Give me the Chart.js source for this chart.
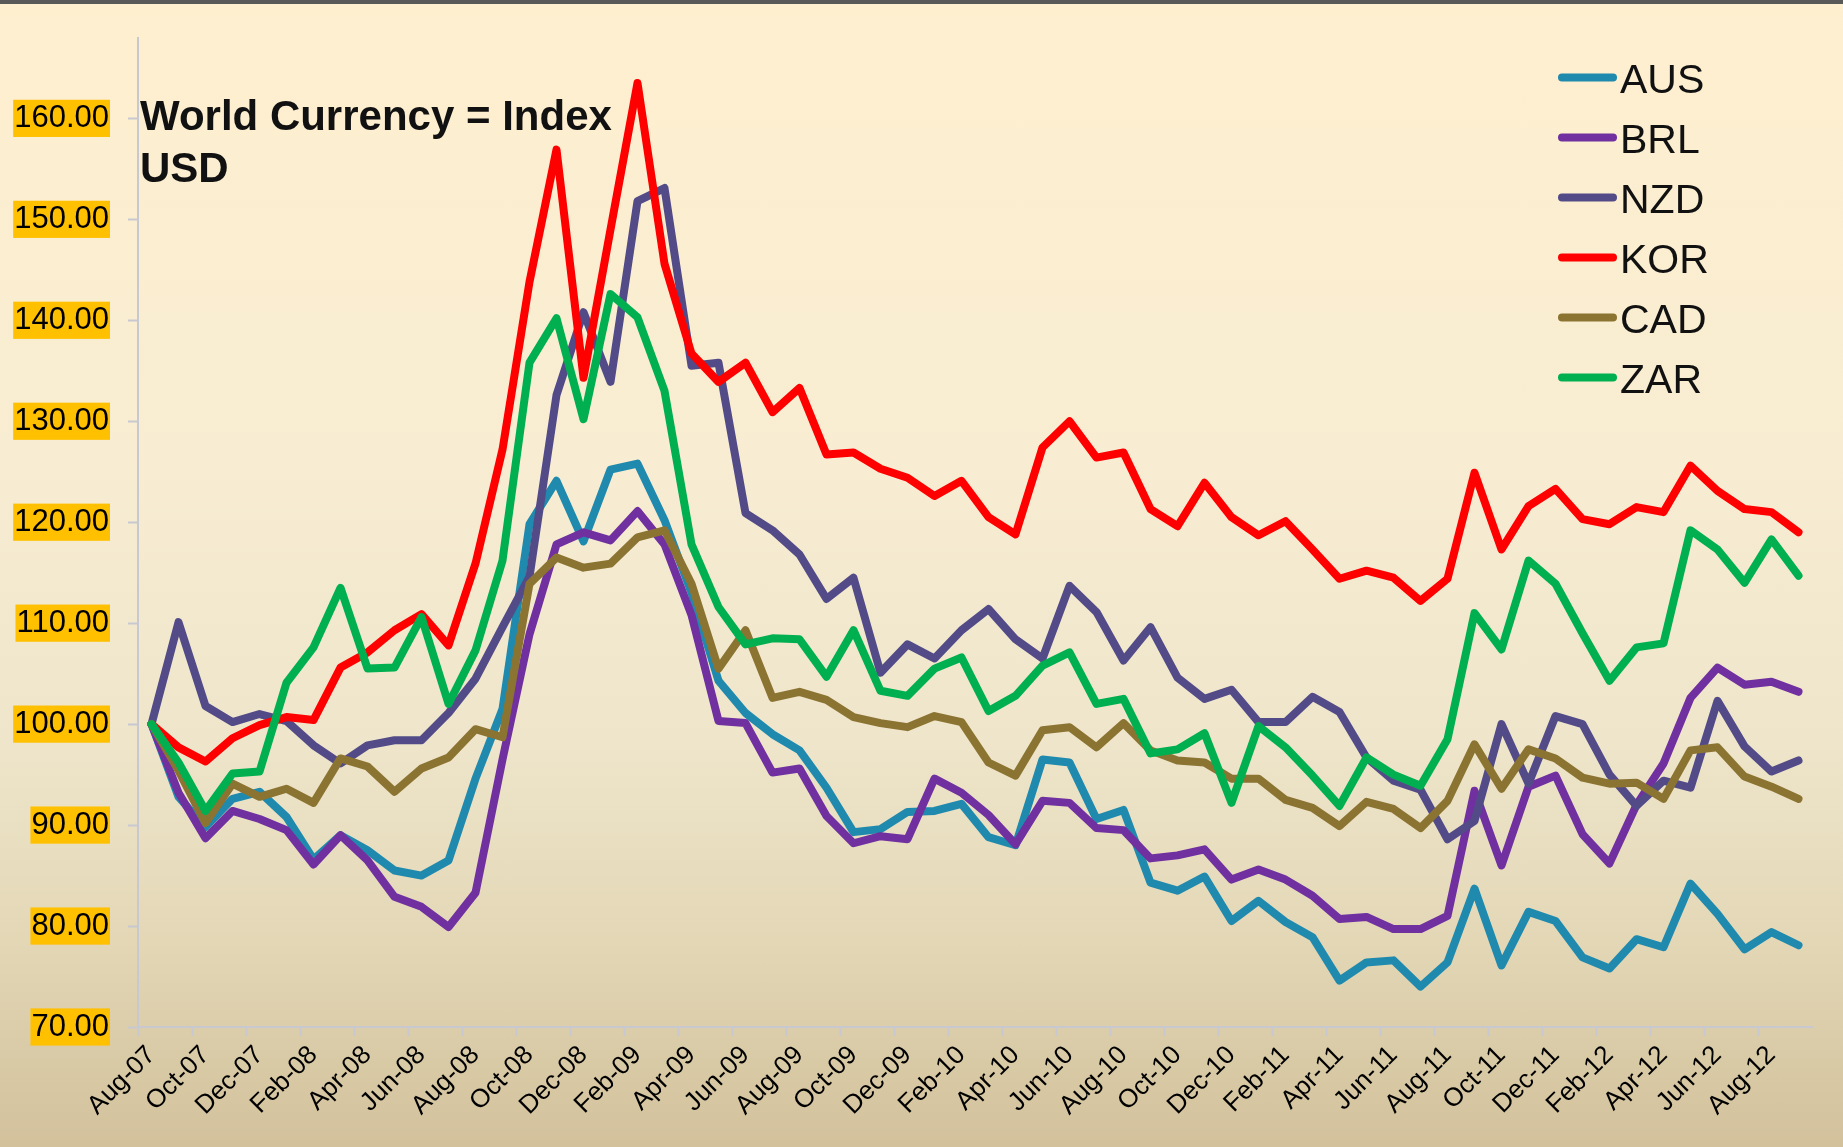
<!DOCTYPE html>
<html>
<head>
<meta charset="utf-8">
<title>World Currency = Index USD</title>
<script src="https://cdn.jsdelivr.net/npm/chart.js@4.4.0/dist/chart.umd.min.js"></script>
<style>
    html, body { margin: 0; padding: 0; }
    body {
        width: 1843px;
        height: 1147px;
        overflow: hidden;
        position: relative;
        background: linear-gradient(to bottom, #feefcf 0%, #f8edd2 40%, #eee5ca 65%, #e3d7b6 82%, #d2c19b 100%);
    }
    #topBar { position: absolute; left: 0; top: 0; width: 100%; height: 4px; background: #595959; }
    #wrap { position: absolute; left: 0; top: 0; width: 1843px; height: 1147px; }
</style>
</head>
<body>
<div id="topBar"></div>
<div id="wrap"><canvas id="lineChart" width="1843" height="1147"></canvas></div>
<script>
// Data
const months = [
    'Aug-07', 'Sep-07', 'Oct-07', 'Nov-07', 'Dec-07',
    'Jan-08', 'Feb-08', 'Mar-08', 'Apr-08', 'May-08', 'Jun-08', 'Jul-08', 'Aug-08', 'Sep-08', 'Oct-08', 'Nov-08', 'Dec-08',
    'Jan-09', 'Feb-09', 'Mar-09', 'Apr-09', 'May-09', 'Jun-09', 'Jul-09', 'Aug-09', 'Sep-09', 'Oct-09', 'Nov-09', 'Dec-09',
    'Jan-10', 'Feb-10', 'Mar-10', 'Apr-10', 'May-10', 'Jun-10', 'Jul-10', 'Aug-10', 'Sep-10', 'Oct-10', 'Nov-10', 'Dec-10',
    'Jan-11', 'Feb-11', 'Mar-11', 'Apr-11', 'May-11', 'Jun-11', 'Jul-11', 'Aug-11', 'Sep-11', 'Oct-11', 'Nov-11', 'Dec-11',
    'Jan-12', 'Feb-12', 'Mar-12', 'Apr-12', 'May-12', 'Jun-12', 'Jul-12', 'Aug-12', 'Sep-12'
];

const aus = [100, 92.8, 89.8, 92.6, 93.3, 90.8, 86.6, 89.0, 87.5, 85.5,
    85.0, 86.5, 94.6, 101.5, 119.8, 124.1, 118.1, 125.2, 125.8, 120.2,
    113.0, 104.3, 101.1, 99.0, 97.4, 93.7, 89.3, 89.6, 91.3, 91.4,
    92.1, 88.8, 88.0, 96.5, 96.2, 90.6, 91.5, 84.3, 83.5, 84.9,
    80.5, 82.5, 80.4, 78.9, 74.6, 76.4, 76.6, 74.0, 76.4, 83.7,
    76.1, 81.4, 80.5, 76.9, 75.8, 78.7, 77.9, 84.2, 81.2, 77.7,
    79.4, 78.1];

const brl = [100, 93.2, 88.7, 91.4, 90.6, 89.5, 86.1, 89.0, 86.5, 82.9,
    81.9, 79.9, 83.3, 96.5, 108.9, 117.8, 119.0, 118.2, 121.1, 117.8,
    110.8, 100.3, 100.1, 95.2, 95.6, 90.9, 88.2, 88.9, 88.6, 94.6,
    93.2, 91.0, 88.1, 92.4, 92.2, 89.7, 89.5, 86.7, 87.0, 87.6,
    84.6, 85.6, 84.6, 83.0, 80.7, 80.9, 79.7, 79.7, 81.0, 93.4,
    86.0, 93.8, 94.9, 89.1, 86.2, 92.0, 96.1, 102.6, 105.6, 103.9,
    104.2, 103.2];

const nzd = [100, 110.1, 101.8, 100.2, 101.0, 100.3, 97.9, 96.1, 97.9, 98.4,
    98.4, 101.1, 104.5, 109.6, 114.6, 132.6, 140.8, 133.9, 151.8, 153.1,
    135.5, 135.8, 120.9, 119.2, 116.8, 112.4, 114.5, 105.1, 107.9, 106.5,
    109.3, 111.4, 108.4, 106.5, 113.7, 111.1, 106.3, 109.6, 104.6, 102.5,
    103.4, 100.2, 100.2, 102.7, 101.2, 96.7, 94.4, 93.5, 88.6, 90.4,
    100.0, 94.1, 100.8, 100.0, 95.0, 91.9, 94.4, 93.7, 102.3, 97.8,
    95.3, 96.4];

const kor = [100, 97.7, 96.3, 98.6, 99.9, 100.7, 100.4, 105.6, 107.1, 109.3,
    110.9, 107.8, 115.9, 127.2, 143.8, 156.9, 134.3, 149.0, 163.5, 145.6,
    136.7, 133.9, 135.8, 130.9, 133.3, 126.7, 126.9, 125.3, 124.4, 122.6,
    124.1, 120.5, 118.8, 127.4, 130.0, 126.4, 126.9, 121.3, 119.6, 123.9,
    120.5, 118.7, 120.1, 117.3, 114.4, 115.2, 114.5, 112.2, 114.4, 124.9,
    117.3, 121.6, 123.3, 120.3, 119.8, 121.5, 121.0, 125.6, 123.1, 121.3,
    121.0, 119.0];

const cad = [100, 95.4, 90.2, 94.1, 92.8, 93.6, 92.2, 96.6, 95.8, 93.3,
    95.6, 96.7, 99.5, 98.7, 113.9, 116.5, 115.5, 115.9, 118.5, 119.2,
    113.9, 105.5, 109.3, 102.6, 103.2, 102.4, 100.7, 100.1, 99.7, 100.8,
    100.2, 96.2, 94.9, 99.4, 99.7, 97.7, 100.1, 97.4, 96.4, 96.2,
    94.6, 94.6, 92.5, 91.7, 89.9, 92.3, 91.6, 89.7, 92.4, 98.0,
    93.6, 97.5, 96.6, 94.7, 94.1, 94.2, 92.6, 97.4, 97.7, 94.8,
    93.8, 92.6];

const zar = [100, 96.2, 91.4, 95.1, 95.3, 104.1, 107.6, 113.5, 105.5, 105.6,
    110.6, 102.0, 107.3, 116.2, 135.8, 140.2, 130.2, 142.6, 140.3, 133.0,
    117.8, 111.6, 107.9, 108.5, 108.4, 104.7, 109.3, 103.3, 102.8, 105.5,
    106.6, 101.3, 102.8, 105.8, 107.1, 102.0, 102.5, 97.1, 97.5, 99.1,
    92.2, 99.8, 97.7, 94.9, 91.9, 96.7, 95.0, 93.9, 98.5, 111.0,
    107.4, 116.2, 113.9, 109.0, 104.3, 107.6, 108.0, 119.2, 117.3, 114.0,
    118.3, 114.7];

const yTicks = [70, 80, 90, 100, 110, 120, 130, 140, 150, 160];
const titleLines = ['World Currency = Index', 'USD'];

const FONT = '"Liberation Sans", Arial, sans-serif';
Chart.defaults.font.family = FONT;

// Title and legend drawn over the plot area
const overlayText = {
    id: 'overlayText',
    afterDatasetsDraw(chart) {
        const ctx = chart.ctx;
        ctx.save();
        ctx.textBaseline = 'alphabetic';
        ctx.textAlign = 'left';
        ctx.fillStyle = '#111';
        ctx.font = 'bold 42px ' + FONT;
        titleLines.forEach((line, i) => ctx.fillText(line, 140, 130 + i * 52));

        ctx.font = '41px ' + FONT;
        ctx.lineCap = 'round';
        chart.data.datasets.forEach((ds, i) => {
            const y = 77.5 + i * 60;
            ctx.strokeStyle = ds.borderColor;
            ctx.lineWidth = 8;
            ctx.beginPath();
            ctx.moveTo(1562, y);
            ctx.lineTo(1613, y);
            ctx.stroke();
            ctx.fillStyle = '#111';
            ctx.fillText(ds.label, 1620, y + 15.5);
        });
        ctx.restore();
    }
};

function makeSeries(label, data, color, order) {
    return {
        label: label,
        data: data,
        borderColor: color,
        backgroundColor: color,
        borderWidth: 8,
        pointRadius: 0,
        pointHoverRadius: 0,
        tension: 0,
        borderJoinStyle: 'round',
        borderCapStyle: 'round',
        fill: false,
        order: order
    };
}

function createLineChart() {
    const ctx = document.getElementById('lineChart').getContext('2d');
    new Chart(ctx, {
        type: 'line',
        data: {
            labels: months,
            datasets: [
                makeSeries('AUS', aus, '#1f8aae', 5),
                makeSeries('BRL', brl, '#7030a0', 4),
                makeSeries('NZD', nzd, '#524b88', 3),
                makeSeries('KOR', kor, '#ff0000', 2),
                makeSeries('CAD', cad, '#8b7332', 1),
                makeSeries('ZAR', zar, '#00b050', 0)
            ]
        },
        options: {
            responsive: false,
            devicePixelRatio: 1,
            animation: false,
            layout: {
                padding: { top: 37, right: 31, left: 0, bottom: 0 }
            },
            plugins: {
                legend: { display: false },
                title: { display: false },
                tooltip: { enabled: false }
            },
            scales: {
                x: {
                    type: 'category',
                    offset: true,
                    grid: {
                        offset: true,
                        drawOnChartArea: false,
                        drawTicks: true,
                        tickLength: 9,
                        tickWidth: 2,
                        tickColor: (c) => c.index % 2 === 0 ? '#c8c9d0' : 'rgba(0,0,0,0)'
                    },
                    border: { color: '#c8c9d0', width: 2 },
                    ticks: {
                        autoSkip: false,
                        maxRotation: 45,
                        minRotation: 45,
                        padding: 4,
                        color: '#000',
                        font: { size: 26 },
                        callback: function(value, index) {
                            return index % 2 === 0 ? this.getLabelForValue(value) : '';
                        }
                    },
                    afterFit: (scale) => { scale.height = 120; }
                },
                y: {
                    min: 70,
                    max: 168,
                    afterBuildTicks: (scale) => {
                        scale.ticks = yTicks.map(v => ({ value: v }));
                    },
                    grid: {
                        drawOnChartArea: false,
                        tickLength: 10,
                        tickWidth: 2,
                        tickColor: '#c8c9d0'
                    },
                    border: { color: '#c8c9d0', width: 2 },
                    ticks: {
                        color: '#000',
                        font: { size: 31, lineHeight: 1.2 },
                        padding: 19,
                        showLabelBackdrop: true,
                        backdropColor: '#ffc000',
                        backdropPadding: { top: 0, bottom: 0, left: 1, right: 1 },
                        callback: (value) => Number(value).toFixed(2)
                    },
                    afterFit: (scale) => { scale.width = 138; }
                }
            }
        },
        plugins: [overlayText]
    });
}

window.addEventListener('load', createLineChart);
</script>
</body>
</html>
